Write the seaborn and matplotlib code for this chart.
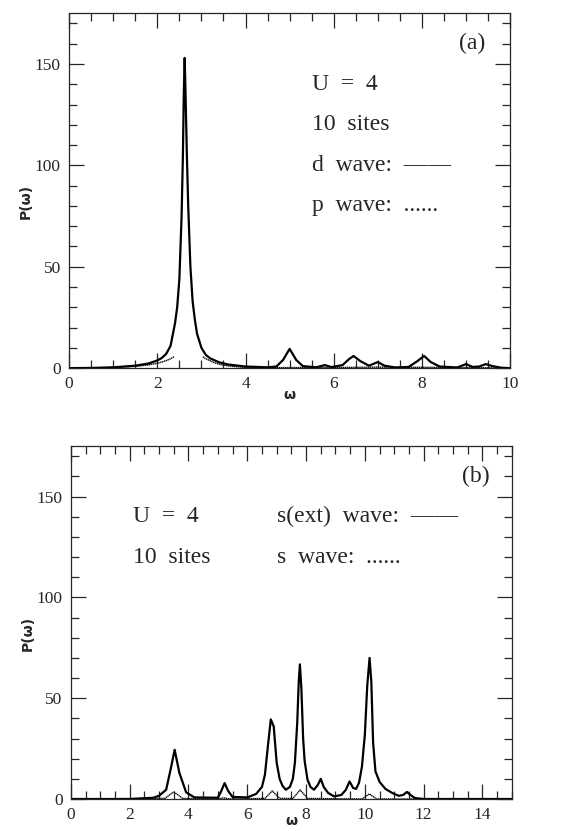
import numpy as np
import pandas as pd
import matplotlib
matplotlib.use("Agg")
import matplotlib.pyplot as plt
from matplotlib.ticker import MultipleLocator
import seaborn as sns

# ---- panel (a): U = 4, 10 sites ----
omega_d = [0.0, 0.5, 1.0, 1.5, 1.8, 2.0, 2.1, 2.2, 2.3, 2.4, 2.45, 2.5, 2.55, 2.58,
           2.6, 2.62, 2.64, 2.67, 2.7, 2.75, 2.8, 2.85, 2.9, 3.0, 3.1, 3.2, 3.4,
           3.6, 4.0, 4.5, 4.7, 4.85, 5.0, 5.15, 5.3, 5.6, 5.8, 5.95, 6.2, 6.35,
           6.45, 6.6, 6.8, 7.0, 7.15, 7.4, 7.7, 7.9, 8.05, 8.2, 8.4, 8.8, 9.0,
           9.15, 9.3, 9.45, 9.6, 9.8, 10.0]
p_d = [0.0, 0.1, 0.4, 1.2, 2.3, 3.8, 5.0, 7.0, 11, 22, 30, 44, 75, 105,
       135, 153, 135, 105, 80, 50, 33, 24, 17, 10, 6.5, 4.8, 2.9,
       1.8, 0.8, 0.4, 0.8, 4, 9.5, 4, 1, 0.4, 1.5, 0.5, 1.5, 4.5,
       6, 3.5, 1.2, 3, 1.2, 0.3, 0.6, 3.5, 6, 3, 0.8, 0.3, 2,
       0.6, 0.8, 2, 1, 0.2, 0.0]

# p wave: only the flanks are visible (dots too sparse on the steep part)
omega_p_left = [0.0, 0.5, 1.0, 1.5, 1.8, 2.0, 2.1, 2.2, 2.3, 2.38]
p_p_left = [0.0, 0.05, 0.3, 0.9, 1.6, 2.4, 3.0, 3.7, 4.6, 5.6]
omega_p_right = [3.03, 3.1, 3.2, 3.3, 3.45, 3.6, 3.8, 4.0, 4.5, 5.0, 6.0, 7.0,
                 8.0, 9.0, 10.0]
p_p_right = [5.6, 4.6, 3.6, 2.6, 1.7, 1.1, 0.7, 0.4, 0.2, 0.3, 0.3, 0.5,
             0.4, 0.3, 0.0]

# ---- panel (b): s(ext) wave and s wave ----
omega_sext = [0.0, 2.0, 2.8, 3.0, 3.24, 3.39, 3.53, 3.69, 3.92, 4.2, 5.0, 5.1,
              5.23, 5.35, 5.5, 6.0, 6.3, 6.5, 6.6, 6.7, 6.8, 6.9, 6.95, 7.0,
              7.1, 7.2, 7.31, 7.45, 7.55, 7.62, 7.7, 7.75, 7.79, 7.84, 7.9,
              7.95, 8.05, 8.15, 8.27, 8.4, 8.5, 8.6, 8.75, 8.95, 9.2, 9.35,
              9.48, 9.6, 9.7, 9.8, 9.9, 10.0, 10.08, 10.16, 10.22, 10.28,
              10.36, 10.5, 10.7, 10.93, 11.15, 11.3, 11.43, 11.55, 11.7, 12.0,
              15.0]
p_sext = [0.0, 0.0, 0.6, 1.6, 4.6, 14.5, 24.4, 13, 3.3, 0.8, 0.6, 3.5,
          7.9, 4, 1, 0.8, 2.5, 6, 12, 26, 39.5, 36, 27, 18,
          10, 6.5, 4.6, 6, 10, 18, 38, 58, 66.8, 55, 30,
          19, 9.5, 6, 4.6, 7, 10, 6, 3, 1.3, 2, 4.5,
          8.7, 5.5, 5, 8, 16, 32, 56, 70, 58, 28,
          13.7, 8.5, 5, 3, 1.6, 2, 3.5, 2, 0.5, 0.0,
          0.0]

omega_s = [0.0, 3.2, 3.4, 3.5, 3.6, 3.8, 5.0, 5.2, 5.4, 6.6, 6.85, 7.1, 7.55,
           7.8, 8.05, 9.9, 10.15, 10.4, 15.0]
p_s = [0.0, 0.3, 2.5, 3.5, 2.5, 0.3, 0.0, 0.6, 0.0, 0.3, 4.0, 0.3, 0.3,
       4.5, 0.3, 0.0, 2.5, 0.0, 0.0]

sns.set_style("ticks")
plt.rcParams["font.family"] = ["Liberation Serif", "DejaVu Serif"]

fig = plt.figure(figsize=(5.81, 8.31), dpi=100)
ax_a = fig.add_axes([0.119, 0.557, 0.759, 0.427])
ax_b = fig.add_axes([0.122, 0.0385, 0.759, 0.4245])

solid = dict(color="black", linewidth=1.6)
dotted = dict(color="black", linewidth=1.0, linestyle=(0, (1, 0.4)))

sns.lineplot(x=omega_d, y=p_d, ax=ax_a, sort=False, **solid)
sns.lineplot(x=omega_p_left, y=p_p_left, ax=ax_a, sort=False, **dotted)
sns.lineplot(x=omega_p_right, y=p_p_right, ax=ax_a, sort=False, **dotted)

sns.lineplot(x=omega_sext, y=p_sext, ax=ax_b, sort=False, **solid)
sns.lineplot(x=omega_s, y=p_s, ax=ax_b, sort=False, **dotted)

ax_a.set_xlim(0, 10)
ax_b.set_xlim(0, 15)

for ax in (ax_a, ax_b):
    ax.set_ylim(0, 175)
    ax.xaxis.set_major_locator(MultipleLocator(2))
    ax.xaxis.set_minor_locator(MultipleLocator(0.5))
    ax.yaxis.set_major_locator(MultipleLocator(50))
    ax.yaxis.set_minor_locator(MultipleLocator(10))
    ax.tick_params(which="both", direction="in", top=True, right=True,
                   width=0.9, labelsize=12.5, pad=6)
    ax.tick_params(which="major", length=11)
    ax.tick_params(which="minor", length=5.5)
    for s in ax.spines.values():
        s.set_linewidth(0.9)
    ax.set_ylabel("P(\u03c9)", fontsize=10, fontweight="bold",
                  family="DejaVu Sans")
    ax.set_xlabel("\u03c9", fontsize=10, fontweight="bold",
                  family="DejaVu Sans")
    ax.yaxis.set_label_coords(-0.082, 0.47)

ax_a.xaxis.set_label_coords(0.5, -0.055)
# keep the lower omega label inside the canvas
ax_b.xaxis.label.set_va("top")
ax_b.xaxis.set_label_coords(0.5, -0.042)

txt = dict(fontsize=17, va="center", ha="left")
ax_a.text(8.85, 160, "(a)", **txt)
ax_a.text(5.5, 140, "U  =  4", **txt)
ax_a.text(5.5, 120, "10  sites", **txt)
ax_a.text(5.5, 100, "d  wave:  \u2014\u2014", **txt)
ax_a.text(5.5, 80, "p  wave:  ......", **txt)

ax_b.text(13.3, 160, "(b)", **txt)
ax_b.text(2.1, 140, "U  =  4", **txt)
ax_b.text(2.1, 120, "10  sites", **txt)
ax_b.text(7.0, 140, "s(ext)  wave:  \u2014\u2014", **txt)
ax_b.text(7.0, 120, "s  wave:  ......", **txt)

fig.savefig("out.png", dpi=100)
